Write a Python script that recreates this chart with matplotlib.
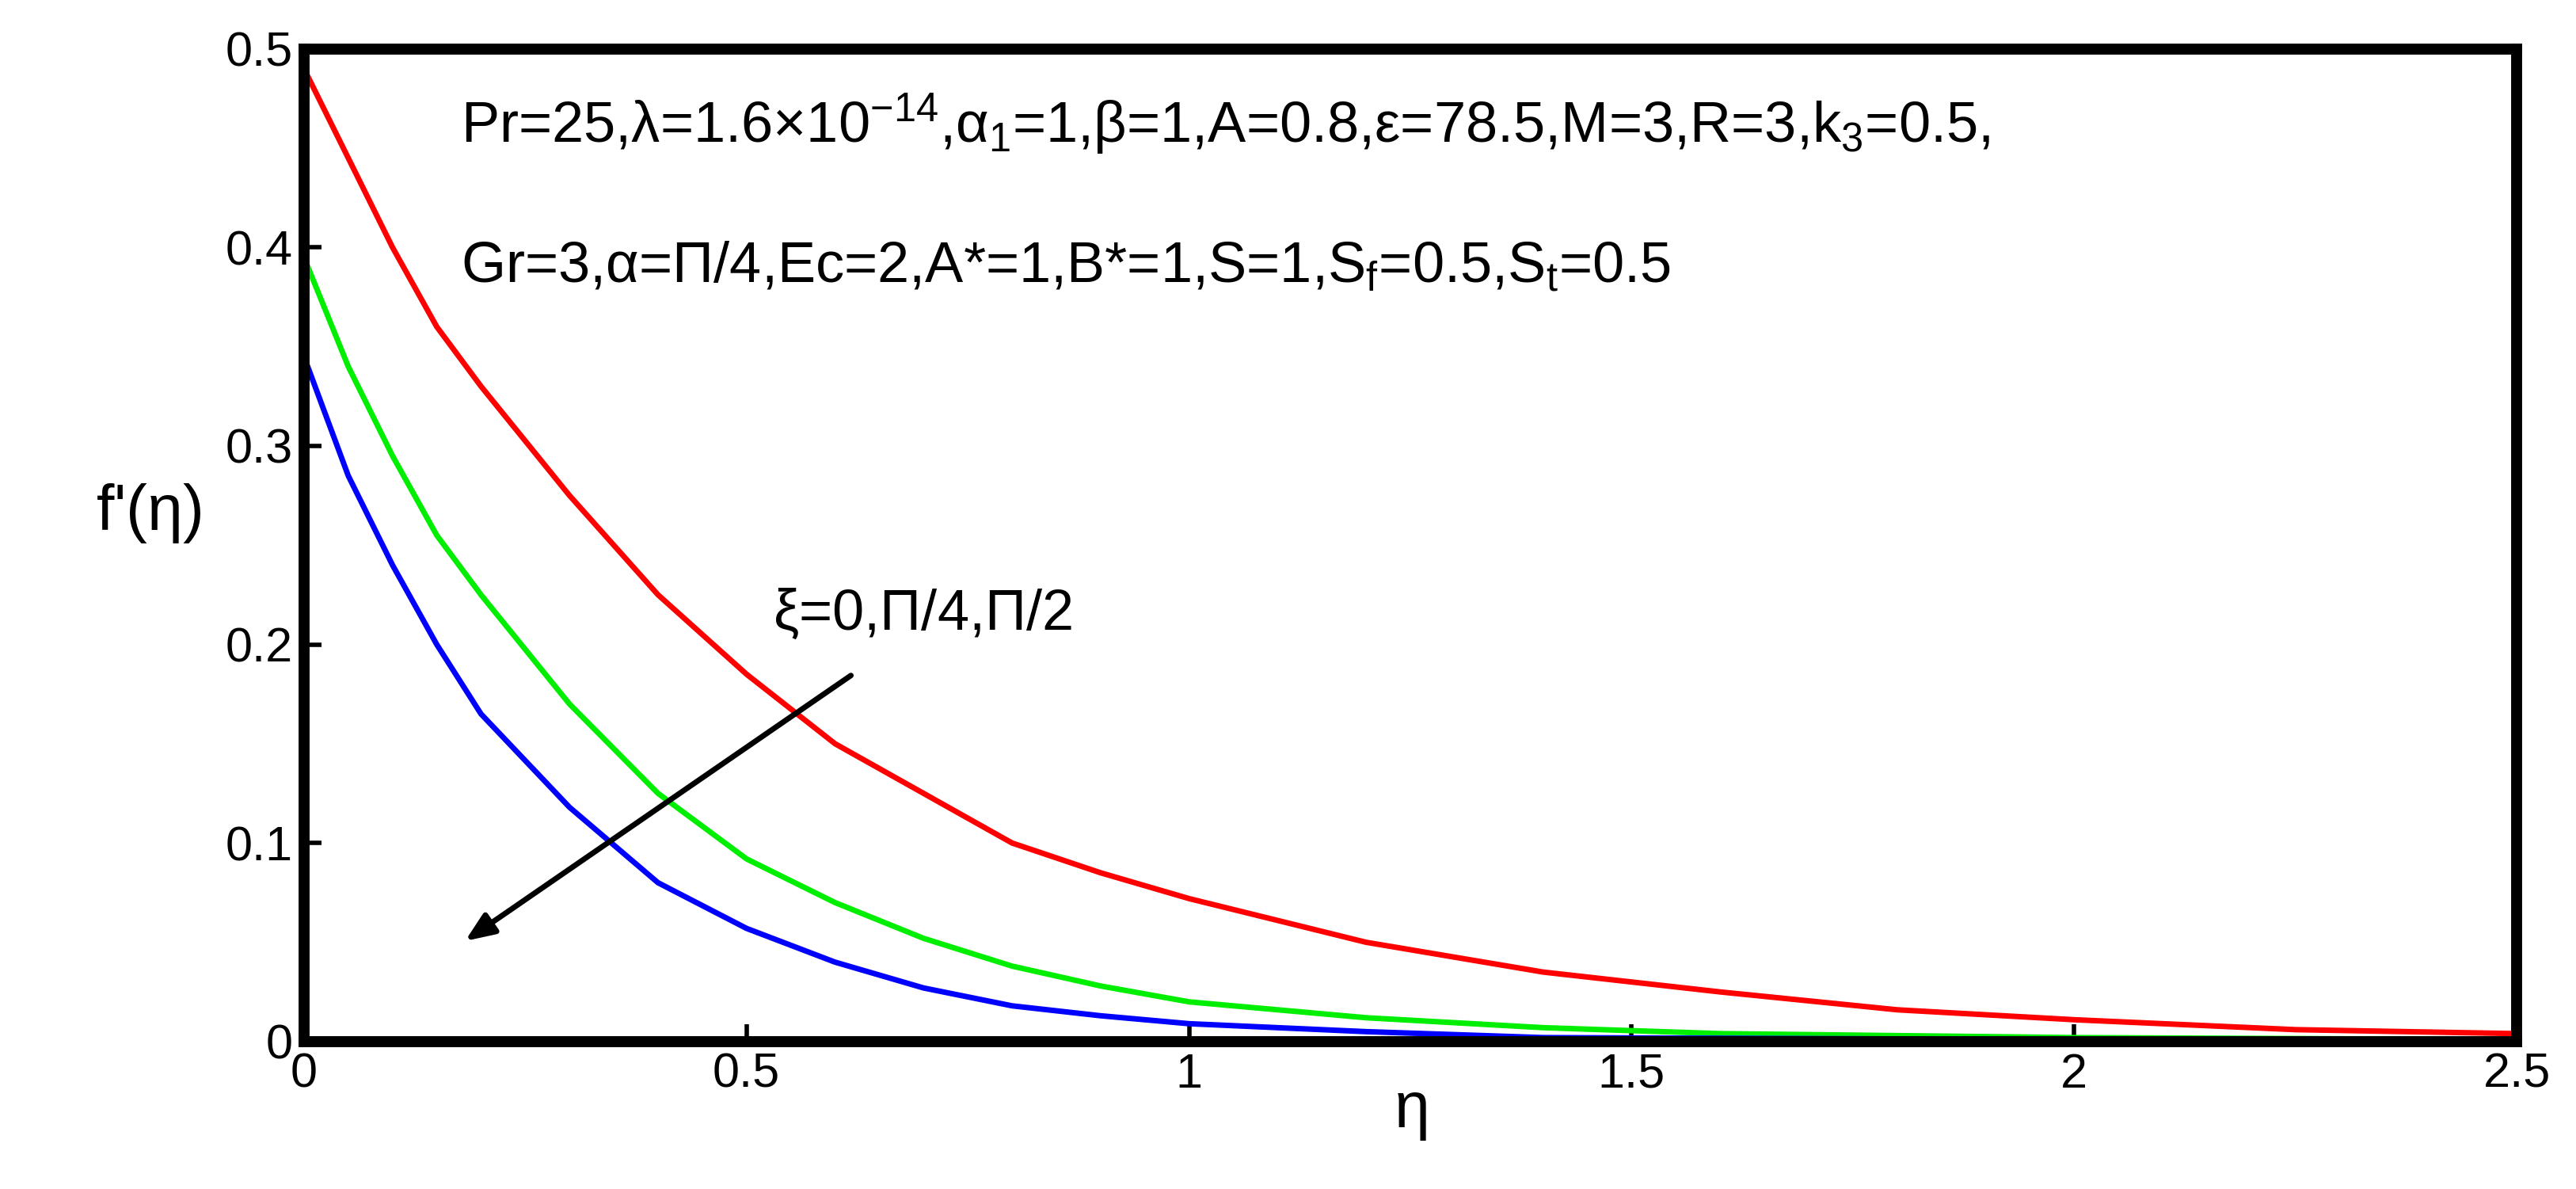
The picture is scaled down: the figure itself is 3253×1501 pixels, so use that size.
import matplotlib
matplotlib.use('Agg')
import matplotlib.pyplot as plt

plt.rcParams['font.family'] = ['Liberation Sans', 'DejaVu Sans']
plt.rcParams['mathtext.fontset'] = 'custom'
plt.rcParams['mathtext.rm'] = 'Liberation Sans'
plt.rcParams['mathtext.it'] = 'Liberation Sans'

# eta values and f'(eta) for the three xi values
eta_red = [0, 0.05, 0.1, 0.15, 0.2, 0.3, 0.4, 0.5, 0.6, 0.7, 0.8, 0.9, 1.0, 1.2, 1.4, 1.6, 1.8, 2.0, 2.25, 2.5]
f_red = [0.49, 0.445, 0.40, 0.36, 0.33, 0.275, 0.225, 0.185, 0.15, 0.125, 0.10, 0.085, 0.072, 0.05, 0.035, 0.025, 0.016, 0.011, 0.006, 0.004]
eta_green = [0, 0.05, 0.1, 0.15, 0.2, 0.3, 0.4, 0.5, 0.6, 0.7, 0.8, 0.9, 1.0, 1.2, 1.4, 1.6, 2.0, 2.5]
f_green = [0.395, 0.34, 0.295, 0.255, 0.225, 0.17, 0.125, 0.092, 0.07, 0.052, 0.038, 0.028, 0.02, 0.012, 0.007, 0.004, 0.002, 0.001]
eta_blue = [0, 0.05, 0.1, 0.15, 0.2, 0.3, 0.4, 0.5, 0.6, 0.7, 0.8, 0.9, 1.0, 1.2, 1.4, 2.0, 2.5]
f_blue = [0.345, 0.285, 0.24, 0.2, 0.165, 0.118, 0.08, 0.057, 0.04, 0.027, 0.018, 0.013, 0.009, 0.005, 0.002, 0.001, 0.0]

fig = plt.figure(figsize=(32.53, 15.01), dpi=100)
ax = fig.add_axes([0.118, 0.124, 0.859, 0.835])
ax.plot(eta_red, f_red, color='red', lw=5)
ax.plot(eta_green, f_green, color='#00ee00', lw=5)
ax.plot(eta_blue, f_blue, color='blue', lw=5)

ax.set_xlim(0, 2.5)
ax.set_ylim(0, 0.5)
ax.set_xticks([0, 0.5, 1, 1.5, 2, 2.5])
ax.set_xticklabels(['0', '0.5', '1', '1.5', '2', '2.5'])
ax.set_yticks([0, 0.1, 0.2, 0.3, 0.4, 0.5])
ax.set_yticklabels(['0', '0.1', '0.2', '0.3', '0.4', '0.5'])
ax.tick_params(direction='in', labelsize=44, length=16, width=4, pad=10)
for s in ax.spines.values():
    s.set_linewidth(10)

ax.set_xlabel(r'$\eta$', fontsize=58, labelpad=-14)
ax.set_ylabel(r"f'($\eta$)", fontsize=58, rotation=0, labelpad=70)

ax.text(0.177, 0.462, r'Pr=25,$\lambda$=1.6$\times$10$^{-14}$,$\alpha_1$=1,$\beta$=1,A=0.8,$\varepsilon$=78.5,M=3,R=3,k$_3$=0.5,',
        fontsize=52, va='center')
ax.text(0.177, 0.39, r'Gr=3,$\alpha$=$\Pi$/4,Ec=2,A*=1,B*=1,S=1,S$_f$=0.5,S$_t$=0.5',
        fontsize=52, va='center')
ax.text(0.53, 0.215, r'$\xi$=0,$\Pi$/4,$\Pi$/2', fontsize=52, va='center')
ax.annotate('', xy=(0.18, 0.05), xytext=(0.62, 0.185),
            arrowprops=dict(arrowstyle='-|>,head_length=2.2,head_width=0.9', color='black', lw=5))

fig.savefig('out.png', dpi=100, facecolor='white')
